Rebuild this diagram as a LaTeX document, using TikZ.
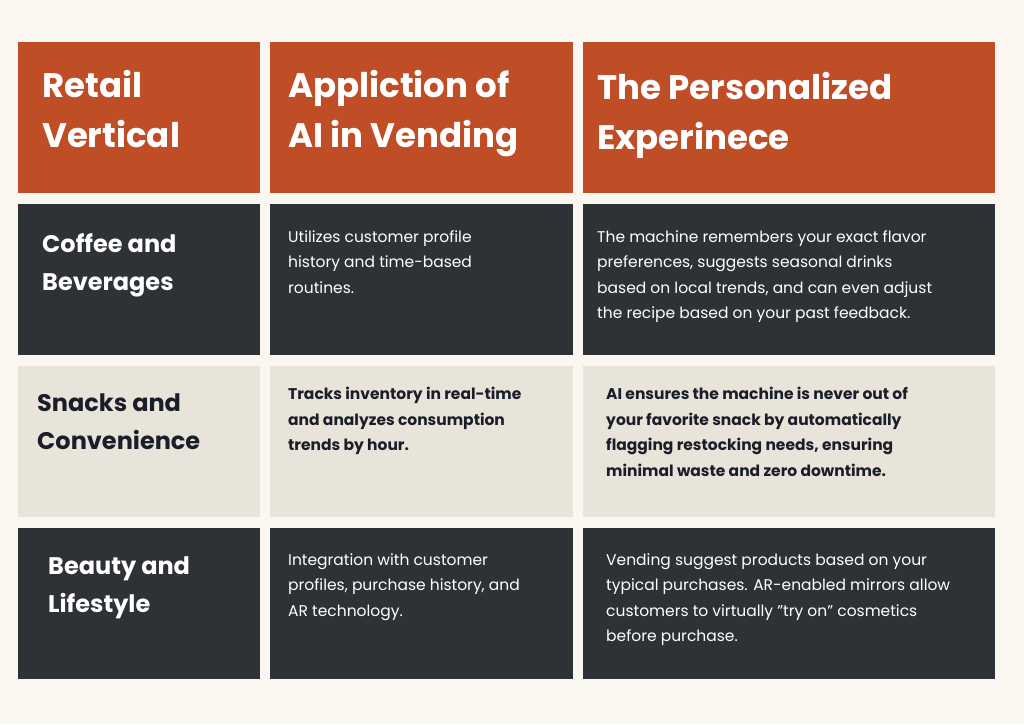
\documentclass[tikz,border=0pt]{standalone}
\usepackage{fontspec}
\setmainfont{Poppins}
\definecolor{bg}{HTML}{FAF7F0}
\definecolor{hdr}{HTML}{BF4E27}
\definecolor{dk}{HTML}{2E3136}
\definecolor{lt}{HTML}{E8E4DA}
\definecolor{ink}{HTML}{1B1E2A}
\begin{document}
\begin{tikzpicture}[x=1pt,y=-1pt,
  cell/.style={inner sep=0pt},
  htxt/.style={anchor=north west,align=left,inner sep=0pt,text=white,font=\fontsize{34}{50}\selectfont\bfseries},
  ttxt/.style={anchor=west,align=left,inner sep=0pt,font=\fontsize{24}{38}\selectfont\bfseries},
  btxt/.style={anchor=north west,align=left,inner sep=0pt,font=\fontsize{15.5}{25.5}\selectfont}]
\fill[bg] (0,0) rectangle (1024,724);
\useasboundingbox (0,0) rectangle (1024,724);
% header
\fill[hdr] (18,42) rectangle (260,193);
\fill[hdr] (270,42) rectangle (573,193);
\fill[hdr] (583,42) rectangle (995,193);
\foreach \y/\c in {204/dk,366/lt,528/dk}{
  \fill[\c] (18,\y) rectangle (260,\y+151);
  \fill[\c] (270,\y) rectangle (573,\y+151);
  \fill[\c] (583,\y) rectangle (995,\y+151);
}
\node[htxt] (h1) at (42,70) {Retail\\Vertical};
\node[htxt] (h2) at (288,70) {Appliction of\\AI in Vending};
\node[htxt] (h3) at (597,72) {The Personalized\\Experinece};
\node[ttxt,text=white] (t1) at (42,265) {Coffee and\\Beverages};
\node[ttxt,text=ink] (t2) at (37,422) {Snacks and\\Convenience};
\node[ttxt,text=white] (t3) at (48,588) {Beauty and\\Lifestyle};
\node[btxt,text=white] (a1) at (288,230) {Utilizes customer profile\\history and time-based\\routines.};
\node[btxt,text=white] (b1) at (597,230) {The machine remembers your exact flavor\\preferences, suggests seasonal drinks\\based on local trends, and can even adjust\\the recipe based on your past feedback.};
\node[btxt,text=ink,font=\fontsize{15.5}{25.5}\selectfont\bfseries] (a2) at (288,387) {Tracks inventory in real-time\\and analyzes consumption\\trends by hour.};
\node[btxt,text=ink,font=\fontsize{15.5}{25.5}\selectfont\bfseries] (b2) at (606,387) {AI ensures the machine is never out of\\your favorite snack by automatically\\flagging restocking needs, ensuring\\minimal waste and zero downtime.};
\node[btxt,text=white] (a3) at (288,553) {Integration with customer\\profiles, purchase history, and\\AR technology.};
\node[btxt,text=white] (b3) at (606,553) {Vending suggest products based on your\\typical purchases. AR-enabled mirrors allow\\customers to virtually "try on" cosmetics\\before purchase.};
\end{tikzpicture}
\end{document}
